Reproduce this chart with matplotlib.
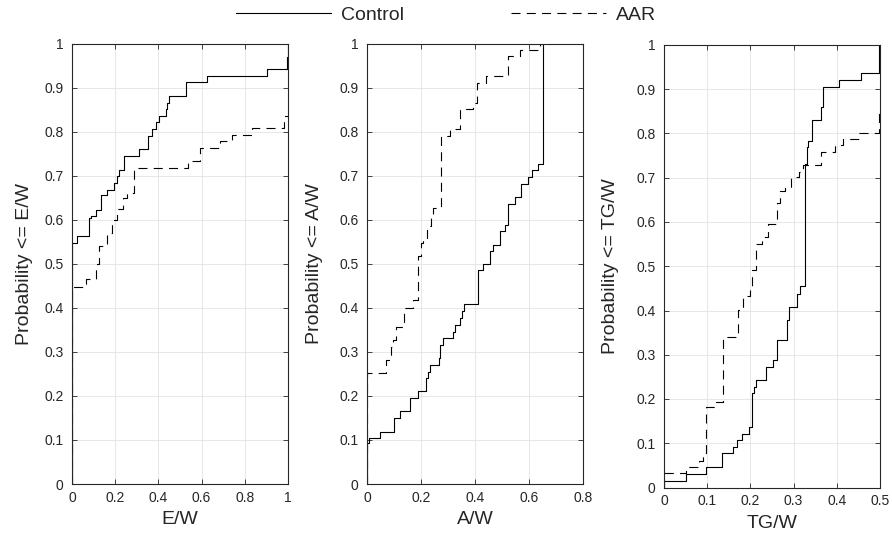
import matplotlib
matplotlib.use("Agg")
import matplotlib.pyplot as plt
from matplotlib.lines import Line2D
from matplotlib.ticker import FuncFormatter, MultipleLocator

# ---------------- data (step breakpoints, value after each step) ----------------
ew_ctrl_x = [0, 0, 0.022, 0.080, 0.088, 0.110, 0.133, 0.164, 0.194, 0.207, 0.216, 0.242,
             0.310, 0.353, 0.369, 0.389, 0.403, 0.434, 0.441, 0.451, 0.528, 0.625, 0.901,
             0.994, 1.0]
ew_ctrl_y = [0, 0.547, 0.562, 0.604, 0.608, 0.623, 0.655, 0.668, 0.683, 0.700, 0.713, 0.744,
             0.760, 0.791, 0.806, 0.821, 0.836, 0.852, 0.866, 0.880, 0.912, 0.926, 0.942,
             0.970, 1.0]

ew_aar_x = [0, 0, 0.065, 0.111, 0.125, 0.160, 0.185, 0.210, 0.235, 0.255, 0.287, 0.539,
            0.593, 0.685, 0.739, 0.832, 0.981, 1.0]
ew_aar_y = [0, 0.448, 0.465, 0.500, 0.540, 0.570, 0.600, 0.625, 0.650, 0.660, 0.718, 0.733,
            0.763, 0.778, 0.793, 0.808, 0.836, 0.836]

aw_ctrl_x = [0, 0, 0.007, 0.048, 0.101, 0.122, 0.159, 0.190, 0.217, 0.225, 0.235, 0.267,
             0.272, 0.283, 0.317, 0.326, 0.346, 0.353, 0.360, 0.410, 0.431, 0.456, 0.468,
             0.493, 0.511, 0.521, 0.548, 0.569, 0.595, 0.610, 0.635, 0.651]
aw_ctrl_y = [0, 0.092, 0.105, 0.119, 0.149, 0.165, 0.195, 0.210, 0.240, 0.255, 0.270, 0.285,
             0.316, 0.331, 0.346, 0.361, 0.377, 0.392, 0.408, 0.485, 0.499, 0.528, 0.543,
             0.574, 0.589, 0.636, 0.651, 0.682, 0.697, 0.712, 0.727, 1.0]

aw_aar_x = [0, 0, 0.069, 0.088, 0.095, 0.106, 0.138, 0.172, 0.190, 0.200, 0.209, 0.221,
            0.237, 0.246, 0.273, 0.307, 0.344, 0.394, 0.406, 0.440, 0.521, 0.567, 0.641]
aw_aar_y = [0, 0.252, 0.282, 0.312, 0.327, 0.356, 0.399, 0.417, 0.517, 0.547, 0.555, 0.585,
            0.608, 0.627, 0.789, 0.806, 0.851, 0.866, 0.911, 0.926, 0.971, 0.985, 1.0]

tg_ctrl_x = [0, 0, 0.051, 0.0965, 0.135, 0.159, 0.170, 0.181, 0.1975, 0.204, 0.208, 0.213,
             0.235, 0.253, 0.261, 0.285, 0.290, 0.307, 0.315, 0.326, 0.330, 0.334, 0.342,
             0.363, 0.369, 0.404, 0.456, 0.498, 0.5]
tg_ctrl_y = [0, 0.015, 0.030, 0.046, 0.077, 0.092, 0.107, 0.122, 0.137, 0.213, 0.227, 0.242,
             0.272, 0.288, 0.333, 0.378, 0.408, 0.438, 0.455, 0.732, 0.770, 0.784, 0.831,
             0.861, 0.906, 0.921, 0.936, 1.0, 1.0]

tg_aar_x = [0, 0, 0.051, 0.080, 0.091, 0.0965, 0.1196, 0.136, 0.172, 0.184, 0.199, 0.203,
            0.213, 0.226, 0.2415, 0.261, 0.2685, 0.280, 0.294, 0.3125, 0.3225, 0.363, 0.396,
            0.4136, 0.451, 0.498, 0.5]
tg_aar_y = [0, 0.032, 0.046, 0.060, 0.077, 0.181, 0.193, 0.340, 0.401, 0.433, 0.453, 0.4925,
            0.551, 0.566, 0.596, 0.642, 0.671, 0.679, 0.701, 0.713, 0.728, 0.758, 0.773,
            0.788, 0.800, 0.852, 0.852]

x_labels = ["E/W", "A/W", "TG/W"]
y_labels = ["Probability <= E/W", "Probability <= A/W", "Probability <= TG/W"]
x_limits = [1.0, 0.8, 0.5]
x_steps = [0.2, 0.2, 0.1]
series_names = ["Control", "AAR"]

# ---------------- style ----------------
plt.rcParams["font.family"] = ["Liberation Sans", "DejaVu Sans"]
plt.rcParams["lines.scale_dashes"] = False
AX_COL = "#262626"
DASH = (0, (6.5, 4.5))

W, H = 892, 541
fig = plt.figure(figsize=(W / 100, H / 100), dpi=100)

def rect(x0, x1, ytop, ybot):
    return [x0 / W, 1 - ybot / H, (x1 - x0) / W, (ybot - ytop) / H]

rects = [rect(72, 288, 43.5, 484), rect(367, 583, 43.5, 484), rect(664, 880, 45, 487.5)]
ylab_x = [-0.18, -0.205, -0.21]

data = [(ew_ctrl_x, ew_ctrl_y, ew_aar_x, ew_aar_y),
        (aw_ctrl_x, aw_ctrl_y, aw_aar_x, aw_aar_y),
        (tg_ctrl_x, tg_ctrl_y, tg_aar_x, tg_aar_y)]

fmt = FuncFormatter(lambda v, p: ("%g" % round(v, 3)))

for i, r in enumerate(rects):
    ax = fig.add_axes(r)
    cx, cy, ax_, ay = data[i]
    ax.step(cx, cy, where="post", color="black", lw=0.8, label=series_names[0])
    ax.step(ax_, ay, where="post", color="black", lw=0.8, linestyle=DASH,
            label=series_names[1])
    ax.set_xlim(0, x_limits[i])
    ax.set_ylim(0, 1)
    ax.xaxis.set_major_locator(MultipleLocator(x_steps[i]))
    ax.yaxis.set_major_locator(MultipleLocator(0.1))
    ax.xaxis.set_major_formatter(fmt)
    ax.yaxis.set_major_formatter(fmt)
    ax.grid(True, color="#e3e3e3", lw=0.6)
    ax.set_axisbelow(True)
    for s in ax.spines.values():
        s.set_color(AX_COL)
        s.set_linewidth(0.8)
    ax.tick_params(direction="in", length=3.5, width=0.6, color=AX_COL,
                   labelcolor=AX_COL, labelsize=10, top=True, right=True)
    ax.tick_params(axis="x", pad=5)
    ax.tick_params(axis="y", pad=6)
    ax.set_xlabel(x_labels[i], fontsize=14, color=AX_COL)
    ax.xaxis.set_label_coords(0.5, -0.062)
    ax.set_ylabel(y_labels[i], fontsize=14, color=AX_COL)
    ax.yaxis.set_label_coords(ylab_x[i], 0.5)

handles = [Line2D([], [], color="black", lw=0.8),
           Line2D([], [], color="black", lw=0.8, linestyle=DASH)]
fig.legend(handles, series_names, loc="center", bbox_to_anchor=(0.5, 1 - 15 / H),
           ncol=2, frameon=False, fontsize=14, handlelength=4.9, handletextpad=0.5,
           columnspacing=5.5, labelcolor=AX_COL)

fig.savefig("out.png", dpi=100)
